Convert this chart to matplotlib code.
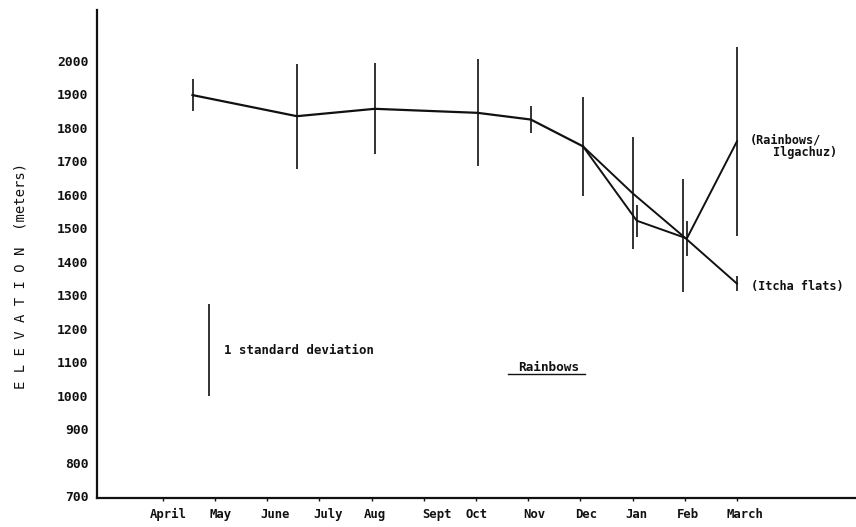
import numpy as np
import matplotlib.pyplot as plt

# month axis, April .. March
months = ["April", "May", "June", "July", "Aug", "Sept", "Oct", "Nov", "Dec", "Jan", "Feb", "March"]
label_x = [0.11, 1.11, 2.16, 3.16, 4.06, 5.25, 6.02, 7.11, 8.12, 9.08, 10.06, 11.15]

# Rainbows: common part of the season (May .. Dec)
x_main = [0.57, 2.57, 4.06, 6.03, 7.05, 8.05]
elev_main = [1898, 1835, 1857, 1845, 1825, 1745]
sd_main = [47, 157, 136, 160, 40, 148]

# winter split: Itcha flats
x_itcha = [8.05, 9.0, 9.96, 11.0]
elev_itcha = [1745, 1605, 1478, 1335]
sd_itcha = [0, 168, 169, 22]

# winter split: Rainbows / Ilgachuz
x_ilga = [8.05, 9.08, 10.04, 11.0]
elev_ilga = [1745, 1523, 1470, 1760]
sd_ilga = [0, 48, 52, 282]

yticks = np.arange(700, 2001, 100)

plt.rcParams['font.family'] = ['DejaVu Sans Mono']
plt.rcParams['font.weight'] = 'bold'
ink = '#111111'

fig = plt.figure(figsize=(8.56, 5.27), dpi=100)
ax = fig.add_axes([0.1133, 0.055, 0.8867, 0.926])

ax.plot(x_main, elev_main, color=ink, lw=1.6, solid_joinstyle='round')
ax.plot(x_itcha, elev_itcha, color=ink, lw=1.4)
ax.plot(x_ilga, elev_ilga, color=ink, lw=1.4)

# standard deviation bars, no caps
for xs, ys, ss in [(x_main, elev_main, sd_main), (x_itcha, elev_itcha, sd_itcha), (x_ilga, elev_ilga, sd_ilga)]:
    for x, y, s in zip(xs, ys, ss):
        if s > 0:
            ax.vlines(x, y - s, y + s, color=ink, lw=1.2)

# key for the bars
ax.vlines(0.88, 1000, 1275, color=ink, lw=1.2)
ax.text(1.17, 1134, "1 standard deviation", fontsize=8.9, color=ink, va='center')

ax.text(11.25, 1765, "(Rainbows/", fontsize=8.6, color=ink, va='center')
ax.text(11.69, 1727, "Ilgachuz)", fontsize=8.6, color=ink, va='center')
ax.text(11.26, 1327, "(Itcha flats)", fontsize=8.6, color=ink, va='center')

ax.text(6.8, 1086, "Rainbows", fontsize=9.2, color=ink, va='center')
ax.plot([6.62, 8.08], [1064, 1064], color=ink, lw=1.0)

ax.set_xlim(-1.26, 13.28)
ax.set_ylim(695, 2152)

ax.set_yticks(yticks)
ax.set_yticklabels([str(v) for v in yticks], fontsize=9.4, color=ink)
ax.tick_params(axis='y', length=0, pad=6)

ax.set_xticks(np.arange(12))
ax.set_xticklabels([])
ax.tick_params(axis='x', which='major', length=2.5, width=1, direction='out', color=ink)
ax.set_xticks(label_x, minor=True)
ax.set_xticklabels(months, minor=True, fontsize=8.8, color=ink)
ax.tick_params(axis='x', which='minor', length=0, pad=7)

ax.set_ylabel("E L E V A T I O N  (meters)", fontsize=10, color=ink)
ax.yaxis.set_label_coords(-0.092, 0.455)

for side in ['top', 'right']:
    ax.spines[side].set_visible(False)
ax.spines['left'].set_linewidth(1.6)
ax.spines['bottom'].set_linewidth(1.6)
ax.spines['left'].set_color(ink)
ax.spines['bottom'].set_color(ink)

fig.savefig("out.png", dpi=100)
